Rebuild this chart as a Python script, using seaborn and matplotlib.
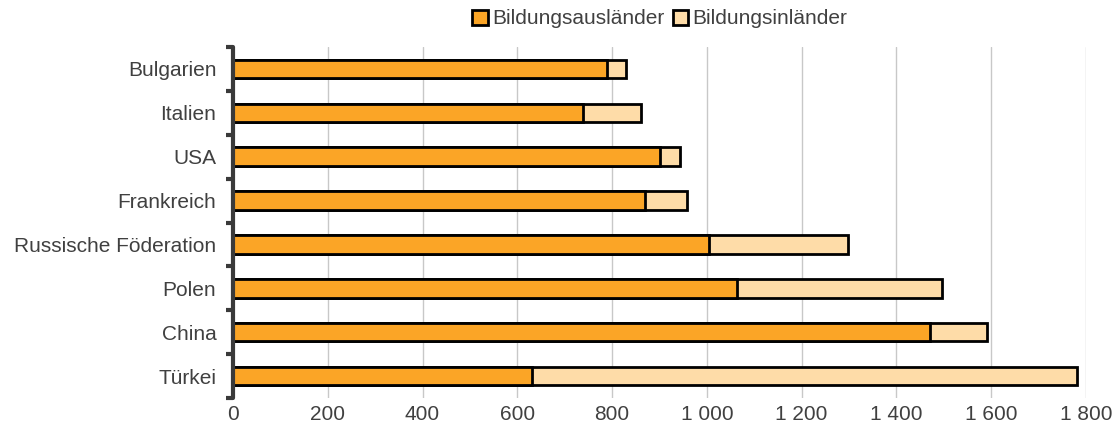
import matplotlib
matplotlib.use("Agg")
import matplotlib.pyplot as plt
import seaborn as sns
import pandas as pd
from matplotlib.patches import Patch
from matplotlib.ticker import FixedLocator, FuncFormatter

countries = ["Bulgarien", "Italien", "USA", "Frankreich", "Russische Föderation", "Polen", "China", "Türkei"]
auslaender = [790, 738, 900, 870, 1005, 1064, 1471, 630]
inlaender = [40, 122, 44, 87, 293, 432, 120, 1151]

totals = [a + b for a, b in zip(auslaender, inlaender)]
df = pd.DataFrame({"Land": countries, "Aus": auslaender, "Total": totals})

sns.set_theme(style="white")
plt.rcParams['font.family'] = ['Liberation Sans', 'DejaVu Sans']

fig = plt.figure(figsize=(11.2, 4.41), dpi=100)
ax = fig.add_axes([233/1120, 1 - 398/441, (1086-233)/1120, (398-47)/441])

c_aus = "#FBA526"
c_in = "#FEDCA8"
txt = "#404040"
sns.barplot(data=df, y="Land", x="Total", color=c_in, edgecolor="black", linewidth=2,
            width=0.42, ax=ax, saturation=1, orient="h")
sns.barplot(data=df, y="Land", x="Aus", color=c_aus, edgecolor="black", linewidth=2,
            width=0.42, ax=ax, saturation=1, orient="h")

ax.set_xlim(0, 1800)
ax.set_ylim(7.5, -0.5)
ax.set_xticks(range(0, 1801, 200))
ax.xaxis.set_major_formatter(FuncFormatter(lambda v, p: f"{int(v):,}".replace(",", " ")))
ax.set_xlabel("")
ax.set_ylabel("")
ax.grid(axis="x", color="#c8c8c8", linewidth=1)
ax.set_axisbelow(True)
for s in ["top", "right", "bottom"]:
    ax.spines[s].set_visible(False)
ax.spines["left"].set_color("#3a3a3a")
ax.spines["left"].set_linewidth(3)
ax.spines["left"].set_capstyle("round")
ax.tick_params(axis="x", length=0, labelsize=15, pad=5, labelcolor=txt)
ax.tick_params(axis="y", which="major", left=False, length=0, labelsize=15, pad=12, labelcolor=txt)
ax.yaxis.set_minor_locator(FixedLocator([i - 0.5 for i in range(9)]))
ax.tick_params(axis="y", which="minor", left=True, length=5, width=3, color="#3a3a3a")

handles = [Patch(facecolor=c_aus, edgecolor="black", linewidth=2, label="Bildungsausländer"),
           Patch(facecolor=c_in, edgecolor="black", linewidth=2, label="Bildungsinländer")]
leg = fig.legend(handles=handles, loc="center", bbox_to_anchor=(660/1120, 1 - 19/441), ncol=2,
                 frameon=False, fontsize=15, handlelength=0.75, handleheight=0.75,
                 handletextpad=0.2, columnspacing=0.4)
for t in leg.get_texts():
    t.set_color(txt)

fig.savefig("out.png", dpi=100)
